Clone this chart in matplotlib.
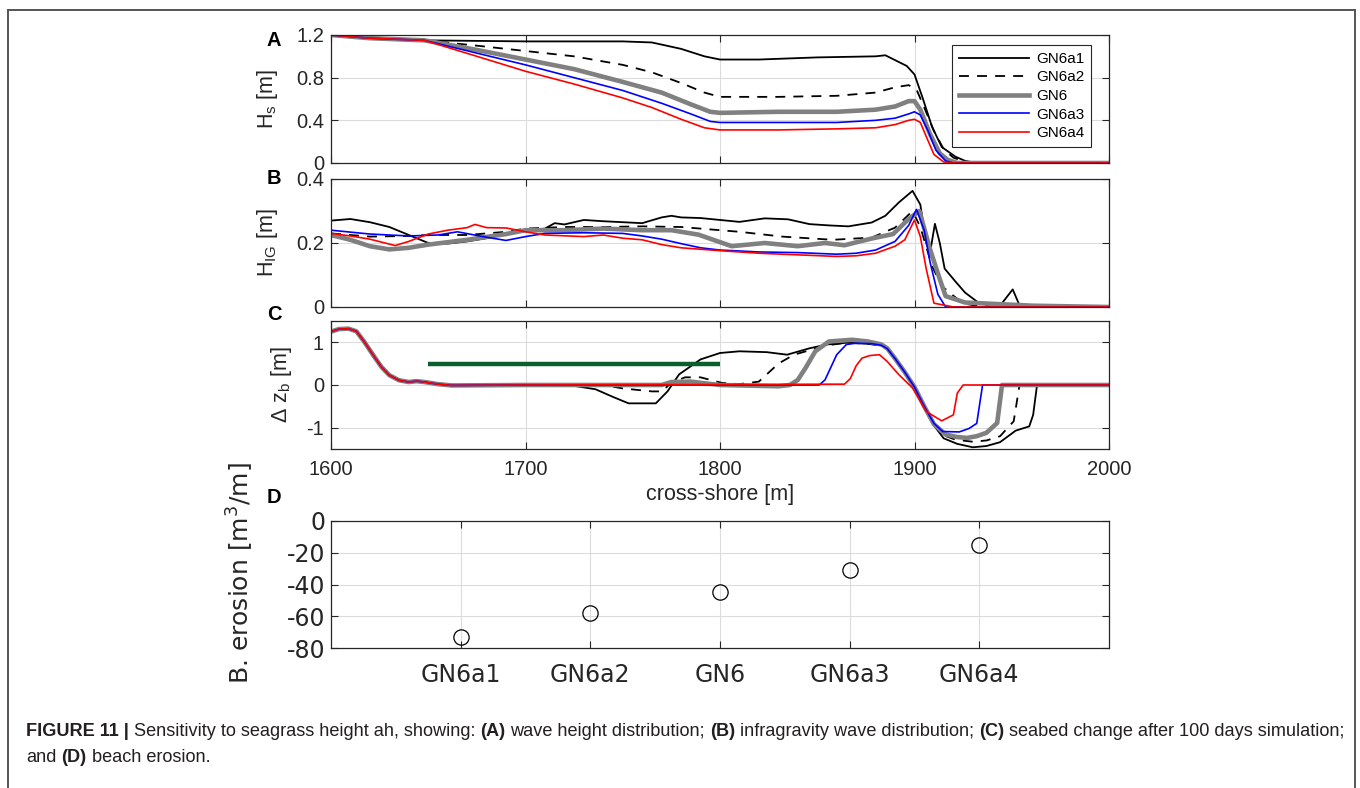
import matplotlib
matplotlib.use("Agg")
import matplotlib.pyplot as plt
from matplotlib import font_manager
from matplotlib.lines import Line2D

# ---- data ----
cases = ["GN6a1", "GN6a2", "GN6", "GN6a3", "GN6a4"]

# (A) significant wave height Hs [m]
hs_x_a1 = [1600, 1620, 1648, 1700, 1750, 1765, 1780, 1792, 1800, 1820, 1850, 1880, 1885,
           1896, 1900, 1904, 1909, 1914, 1921, 1926, 1932, 2000]
hs_a1 = [1.20, 1.17, 1.15, 1.14, 1.14, 1.13, 1.07, 1.00, 0.97, 0.97, 0.99, 1.00, 1.01,
         0.91, 0.83, 0.62, 0.34, 0.15, 0.06, 0.02, 0.0, 0.0]
hs_x_a2 = [1600, 1620, 1648, 1675, 1700, 1725, 1750, 1765, 1780, 1792, 1800, 1830, 1860,
           1880, 1890, 1897, 1901, 1905, 1910, 1915, 1920, 1926, 1932, 2000]
hs_a2 = [1.20, 1.17, 1.15, 1.10, 1.05, 1.00, 0.92, 0.85, 0.75, 0.66, 0.62, 0.62, 0.63,
         0.66, 0.71, 0.73, 0.69, 0.52, 0.30, 0.13, 0.05, 0.01, 0.0, 0.0]
hs_x_6 = [1600, 1620, 1648, 1675, 1700, 1725, 1750, 1770, 1785, 1795, 1800, 1830, 1860,
          1880, 1890, 1897, 1900, 1903, 1908, 1913, 1917, 1922, 2000]
hs_6 = [1.20, 1.17, 1.15, 1.06, 0.97, 0.88, 0.76, 0.66, 0.55, 0.48, 0.47, 0.48, 0.48,
        0.50, 0.53, 0.58, 0.58, 0.50, 0.27, 0.09, 0.03, 0.0, 0.0]
hs_x_a3 = [1600, 1620, 1648, 1675, 1700, 1725, 1750, 1770, 1785, 1795, 1800, 1830, 1860,
           1880, 1890, 1897, 1900, 1903, 1907, 1911, 1916, 1920, 2000]
hs_a3 = [1.20, 1.17, 1.15, 1.03, 0.92, 0.80, 0.68, 0.56, 0.46, 0.39, 0.38, 0.38, 0.38,
         0.40, 0.42, 0.46, 0.48, 0.45, 0.30, 0.12, 0.02, 0.0, 0.0]
hs_x_a4 = [1600, 1620, 1648, 1675, 1700, 1725, 1750, 1765, 1780, 1792, 1800, 1830, 1860,
           1880, 1890, 1897, 1900, 1903, 1906, 1910, 1915, 1920, 2000]
hs_a4 = [1.20, 1.17, 1.15, 1.00, 0.86, 0.74, 0.61, 0.52, 0.41, 0.33, 0.31, 0.31, 0.32,
         0.33, 0.36, 0.40, 0.41, 0.38, 0.25, 0.08, 0.01, 0.0, 0.0]

# (B) infragravity wave height H_IG [m]
hig_x_a1 = [1600, 1610, 1620, 1630, 1640, 1650, 1660, 1670, 1680, 1690, 1700, 1710, 1715,
            1720, 1725, 1730, 1740, 1750, 1760, 1770, 1775, 1780, 1790, 1800, 1810, 1823,
            1835, 1846, 1856, 1866, 1878, 1885, 1892, 1899, 1903, 1906, 1908, 1910.5,
            1913, 1915.5, 1921, 1926, 1933, 1945, 1950.5, 1954, 1960, 2000]
hig_a1 = [0.27, 0.275, 0.265, 0.25, 0.225, 0.20, 0.198, 0.205, 0.215, 0.23, 0.24, 0.245,
          0.262, 0.258, 0.265, 0.272, 0.268, 0.265, 0.262, 0.28, 0.285, 0.28, 0.278,
          0.272, 0.266, 0.277, 0.274, 0.259, 0.255, 0.252, 0.264, 0.285, 0.327, 0.363,
          0.32, 0.20, 0.17, 0.26, 0.20, 0.12, 0.08, 0.045, 0.013, 0.012, 0.055, 0.005,
          0.0, 0.0]
hig_x_a2 = [1600, 1620, 1640, 1650, 1670, 1690, 1700, 1720, 1740, 1760, 1780, 1790, 1810,
            1832, 1858, 1878, 1890, 1899, 1903, 1909, 1914, 1919, 1925, 1932, 2000]
hig_a2 = [0.23, 0.22, 0.222, 0.225, 0.225, 0.235, 0.245, 0.25, 0.25, 0.252, 0.25, 0.245,
          0.235, 0.22, 0.21, 0.217, 0.248, 0.30, 0.25, 0.128, 0.066, 0.04, 0.011, 0.004,
          0.0]
hig_x_6 = [1600, 1610, 1620, 1630, 1640, 1650, 1670, 1690, 1700, 1720, 1740, 1760, 1775,
           1789, 1806, 1823, 1840, 1854, 1864, 1878, 1889, 1897, 1902.5, 1908, 1913, 1916,
           1926, 1961, 2000]
hig_6 = [0.225, 0.21, 0.19, 0.18, 0.185, 0.195, 0.21, 0.228, 0.24, 0.24, 0.245, 0.24,
         0.24, 0.226, 0.19, 0.20, 0.19, 0.20, 0.193, 0.214, 0.228, 0.275, 0.30, 0.18,
         0.087, 0.034, 0.014, 0.004, 0.0]
hig_x_a3 = [1600, 1620, 1640, 1655, 1665, 1680, 1690, 1700, 1710, 1730, 1750, 1760, 1770,
            1780, 1790, 1800, 1820, 1840, 1860, 1870, 1880, 1890, 1897, 1901, 1905, 1908,
            1912, 1916, 2000]
hig_a3 = [0.24, 0.228, 0.222, 0.225, 0.235, 0.218, 0.208, 0.22, 0.23, 0.232, 0.23, 0.222,
          0.212, 0.198, 0.185, 0.178, 0.172, 0.17, 0.165, 0.168, 0.178, 0.205, 0.255,
          0.305, 0.24, 0.14, 0.04, 0.0, 0.0]
hig_x_a4 = [1600, 1610, 1620, 1633, 1640, 1650, 1660, 1670, 1674, 1680, 1690, 1700, 1710,
            1730, 1740, 1750, 1760, 1770, 1780, 1800, 1820, 1840, 1860, 1870, 1880, 1890,
            1895, 1900, 1903, 1906, 1910, 1920, 2000]
hig_a4 = [0.23, 0.222, 0.212, 0.192, 0.205, 0.228, 0.24, 0.248, 0.258, 0.248, 0.247,
          0.235, 0.225, 0.22, 0.225, 0.215, 0.21, 0.195, 0.185, 0.176, 0.168, 0.163,
          0.158, 0.16, 0.168, 0.19, 0.21, 0.272, 0.22, 0.12, 0.012, 0.0, 0.0]

# (C) bed level change dz_b [m]; the first 60 m are common to all runs
dz_x_start = [1600, 1604, 1609, 1613, 1617, 1622, 1626, 1630, 1635, 1640, 1644, 1648,
              1655, 1662]
dz_start = [1.25, 1.31, 1.32, 1.26, 1.02, 0.68, 0.42, 0.23, 0.11, 0.07, 0.09, 0.07,
            0.02, -0.01]
dz_x_a1 = [1700, 1725, 1736, 1745, 1753, 1767, 1773, 1779, 1790, 1800, 1810, 1824, 1834.5,
           1846, 1855, 1865, 1875, 1883, 1886, 1890, 1895, 1900, 1905, 1910, 1915, 1922,
           1930, 1937, 1944, 1952, 1959, 1961, 1963, 2000]
dz_a1 = [0.0, -0.02, -0.1, -0.28, -0.43, -0.43, -0.15, 0.25, 0.6, 0.75, 0.79, 0.77, 0.71,
         0.86, 0.95, 0.99, 0.97, 0.93, 0.85, 0.62, 0.3, -0.05, -0.5, -0.95, -1.25, -1.38,
         -1.46, -1.43, -1.34, -1.07, -0.97, -0.7, 0.0, 0.0]
dz_x_a2 = [1700, 1740, 1750, 1765, 1770, 1775, 1782, 1790, 1795, 1801, 1810, 1820, 1830,
           1838, 1845, 1855, 1865, 1875, 1883, 1886, 1890, 1895, 1900, 1905, 1910, 1915,
           1921, 1930, 1937, 1944, 1951, 1954, 2000]
dz_a2 = [0.0, 0.0, -0.08, -0.15, -0.15, 0.05, 0.18, 0.18, 0.12, 0.05, 0.02, 0.08, 0.5,
         0.71, 0.8, 0.93, 0.99, 0.97, 0.93, 0.85, 0.62, 0.3, -0.05, -0.5, -0.93, -1.18,
         -1.28, -1.33, -1.3, -1.2, -0.85, 0.0, 0.0]
dz_x_6 = [1700, 1770, 1775, 1785, 1792, 1800, 1830, 1836, 1840, 1844, 1849, 1856, 1868,
          1876, 1883, 1886, 1890, 1895, 1900, 1905, 1910, 1916, 1922, 1927, 1932, 1937,
          1942.5, 1945, 2000]
dz_6 = [0.0, 0.0, 0.07, 0.08, 0.04, 0.0, -0.03, 0.0, 0.12, 0.4, 0.79, 1.02, 1.06, 1.02,
        0.95, 0.86, 0.62, 0.3, -0.05, -0.5, -0.92, -1.16, -1.22, -1.24, -1.2, -1.12,
        -0.89, 0.0, 0.0]
dz_x_a3 = [1700, 1851, 1854, 1860, 1865, 1870, 1878, 1883, 1886, 1890, 1895, 1900, 1905,
           1910, 1914.5, 1923, 1928, 1932, 1935, 2000]
dz_a3 = [0.0, 0.0, 0.12, 0.71, 0.95, 0.98, 0.97, 0.93, 0.85, 0.62, 0.3, -0.05, -0.5,
         -0.9, -1.09, -1.1, -1.02, -0.9, 0.0, 0.0]
dz_x_a4 = [1700, 1864, 1867, 1870, 1873, 1877, 1882, 1886, 1892, 1899, 1906, 1914, 1920,
           1922, 1925, 2000]
dz_a4 = [0.0, 0.02, 0.15, 0.45, 0.63, 0.69, 0.71, 0.55, 0.24, -0.07, -0.62, -0.84, -0.7,
         -0.19, 0.0, 0.0]

# seagrass meadow extent, drawn at dz = 0.5
seagrass_x = [1650, 1800]
seagrass_z = [0.5, 0.5]

# (D) beach erosion [m^3/m]
erosion = [-73, -58, -45, -31, -15]

# ---- figure ----
W, H = 1360, 788
plt.rcParams["font.family"] = ["Liberation Sans", "DejaVu Sans"]
plt.rcParams["mathtext.fontset"] = "custom"
plt.rcParams["mathtext.rm"] = "Liberation Sans"
plt.rcParams["axes.unicode_minus"] = False

fig = plt.figure(figsize=(W / 100, H / 100), dpi=100)


def px_axes(left, top, right, bottom):
    return fig.add_axes([left / W, 1 - bottom / H, (right - left) / W, (bottom - top) / H])


ax_a = px_axes(331, 35, 1109, 163)
ax_b = px_axes(331, 179, 1109, 307)
ax_c = px_axes(331, 321, 1109, 449)
ax_d = px_axes(331, 521, 1109, 648)

styles = [
    dict(color="black", lw=1.3, ls="-"),
    dict(color="black", lw=1.3, ls=(0, (5.5, 4.5))),
    dict(color="#808080", lw=3.3, ls="-"),
    dict(color="#0000ff", lw=1.2, ls="-"),
    dict(color="#ff0000", lw=1.2, ls="-"),
]

hs_series = [(hs_x_a1, hs_a1), (hs_x_a2, hs_a2), (hs_x_6, hs_6), (hs_x_a3, hs_a3), (hs_x_a4, hs_a4)]
hig_series = [(hig_x_a1, hig_a1), (hig_x_a2, hig_a2), (hig_x_6, hig_6), (hig_x_a3, hig_a3),
              (hig_x_a4, hig_a4)]
dz_series = [(dz_x_a1, dz_a1), (dz_x_a2, dz_a2), (dz_x_6, dz_6), (dz_x_a3, dz_a3), (dz_x_a4, dz_a4)]

for name, st, (x, y) in zip(cases, styles, hs_series):
    ax_a.plot(x, y, label=name, **st)
for st, (x, y) in zip(styles, hig_series):
    ax_b.plot(x, y, **st)
for st, (x, y) in zip(styles, dz_series):
    ax_c.plot(dz_x_start + x, dz_start + y, **st)
ax_c.plot(seagrass_x, seagrass_z, color="#0b5e2e", lw=3.2, solid_capstyle="butt")

grid_kw = dict(color="#dcdcdc", lw=0.8)
for ax in (ax_a, ax_b, ax_c):
    ax.set_xlim(1600, 2000)
    ax.set_xticks([1600, 1700, 1800, 1900, 2000])
    ax.grid(True, **grid_kw)
    ax.set_axisbelow(True)
    ax.tick_params(direction="in", top=True, right=True, length=5, width=0.8,
                   labelsize=14.5, pad=5, colors="#262626", labelcolor="#262626")
    for s in ax.spines.values():
        s.set_color("#262626")
        s.set_linewidth(0.9)
for ax in (ax_a, ax_b):
    ax.tick_params(labelbottom=False)

ax_a.set_ylim(0, 1.2)
ax_a.set_yticks([0, 0.4, 0.8, 1.2])
ax_a.set_yticklabels(["0", "0.4", "0.8", "1.2"])
ax_b.set_ylim(0, 0.4)
ax_b.set_yticks([0, 0.2, 0.4])
ax_b.set_yticklabels(["0", "0.2", "0.4"])
ax_c.set_ylim(-1.5, 1.5)
ax_c.set_yticks([-1, 0, 1])
ax_c.tick_params(axis="x", pad=8)

ax_a.set_ylabel(r"H$_\mathrm{s}$ [m]", fontsize=15.5, color="#262626")
ax_b.set_ylabel(r"H$_\mathrm{IG}$ [m]", fontsize=15.5, color="#262626")
ax_c.set_ylabel(r"Δ z$_\mathrm{b}$ [m]", fontsize=15.5, color="#262626")
ax_a.yaxis.set_label_coords(-0.066, 0.5)
ax_b.yaxis.set_label_coords(-0.066, 0.5)
ax_c.yaxis.set_label_coords(-0.048, 0.5)
ax_c.set_xlabel("cross-shore [m]", fontsize=15.5, color="#262626")
ax_c.xaxis.set_label_coords(0.5, -0.27)
ax_c.xaxis.label.set_va("top")

ax_a.legend(loc="upper right", bbox_to_anchor=(0.977, 0.922), borderaxespad=0,
            fontsize=11, frameon=True, fancybox=False, edgecolor="#262626",
            handlelength=4.6, handletextpad=0.45, labelspacing=0.3, borderpad=0.45,
            framealpha=1).get_frame().set_linewidth(0.8)

# (D) beach erosion
pos = list(range(1, len(cases) + 1))
ax_d.plot(pos, erosion, ls="none", marker="o", ms=11, mfc="none", mec="black", mew=0.9)
ax_d.set_xlim(0, 6)
ax_d.set_ylim(-80, 0)
ax_d.set_xticks(pos)
ax_d.set_xticklabels(cases)
ax_d.set_yticks([-80, -60, -40, -20, 0])
ax_d.grid(True, **grid_kw)
ax_d.set_axisbelow(True)
ax_d.tick_params(direction="in", top=True, right=True, length=5, width=0.8, labelsize=17,
                 labelfontfamily="DejaVu Sans", colors="#262626", labelcolor="#262626")
ax_d.tick_params(axis="x", pad=11)
ax_d.tick_params(axis="y", pad=4)
for s in ax_d.spines.values():
    s.set_color("#262626")
    s.set_linewidth(0.9)
ax_d.set_ylabel(r"B. erosion [m$^\mathregular{3}$/m]", fontsize=18, family="DejaVu Sans",
                color="#262626")
ax_d.yaxis.set_label_coords(-0.097, 0.59)

# panel letters
for letter, (lx, ly) in zip("ABCD", [(274, 40), (274, 179), (274, 315), (274, 498)]):
    fig.text(lx / W, 1 - ly / H, letter, fontsize=14.5, fontweight="bold", ha="center",
             va="center", color="black")

# page frame
frame_kw = dict(transform=fig.transFigure, color="#555555", lw=1.4)
fig.add_artist(Line2D([8 / W, 8 / W], [0, 1 - 10 / H], **frame_kw))
fig.add_artist(Line2D([8 / W, 1355 / W], [1 - 10 / H, 1 - 10 / H], **frame_kw))
fig.add_artist(Line2D([1355 / W, 1355 / W], [0, 1 - 10 / H], **frame_kw))

# caption, drawn piece by piece so bold and regular runs can mix
installed = {f.name for f in font_manager.fontManager.ttflist}
cap_family = "Liberation Sans Narrow" if "Liberation Sans Narrow" in installed else "Liberation Sans"

line1 = [("FIGURE 11 |", "bold", False), ("Sensitivity to seagrass height ah, showing:", "normal", True),
         ("(A)", "bold", True), ("wave height distribution;", "normal", True),
         ("(B)", "bold", True), ("infragravity wave distribution;", "normal", True),
         ("(C)", "bold", True), ("seabed change after 100 days simulation;", "normal", True)]
line2 = [("and", "normal", False), ("(D)", "bold", True), ("beach erosion.", "normal", True)]

renderer = fig.canvas.get_renderer()


def draw_line(pieces, x0, y, size):
    probe_a = fig.text(0, 0, "a a", fontsize=size, family=cap_family)
    probe_b = fig.text(0, 0, "aa", fontsize=size, family=cap_family)
    space = probe_a.get_window_extent(renderer).width - probe_b.get_window_extent(renderer).width
    probe_a.remove()
    probe_b.remove()
    x = x0
    texts = []
    for s, weight, gap in pieces:
        if gap:
            x += space
        t = fig.text(x / W, 1 - y / H, s, fontsize=size, fontweight=weight, family=cap_family,
                     color="#231f20", ha="left", va="center")
        x += t.get_window_extent(renderer).width
        texts.append(t)
    return texts, x - x0


cap_size = 13
texts, width = draw_line(line1, 26, 731, cap_size)
for t in texts:
    t.remove()
cap_size = cap_size * 1317 / width
draw_line(line1, 26, 731, cap_size)
draw_line(line2, 26, 757, cap_size)

fig.savefig("out.png", dpi=100)
